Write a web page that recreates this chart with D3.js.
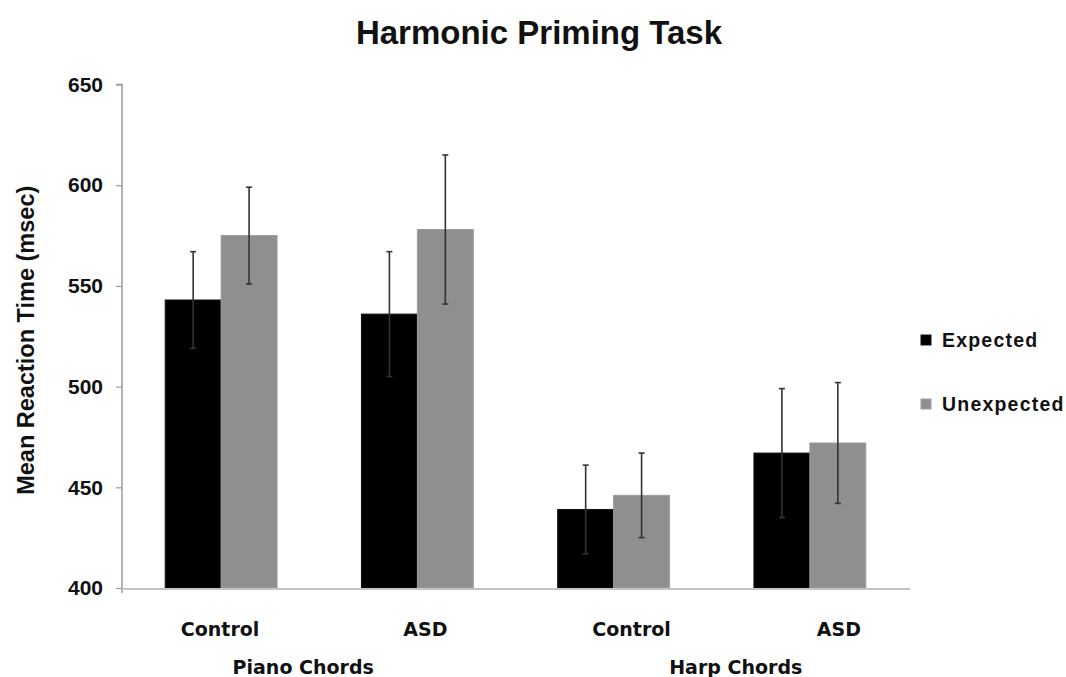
<!DOCTYPE html>
<html>
<head>
<meta charset="utf-8">
<script src="https://cdn.jsdelivr.net/npm/d3@7"></script>
<style>
  body { margin: 0; background: #fff; }
  text { font-family: "Liberation Sans", Arial, sans-serif; font-weight: bold; fill: #111; }
  .cat { font-family: "DejaVu Sans", Verdana, sans-serif; }
</style>
</head>
<body>
<svg id="chart" width="1066" height="677"></svg>
<script>
// data
const groups = ['Piano Control', 'Piano ASD', 'Harp Control', 'Harp ASD'];
const groupLabels = ['Control', 'ASD', 'Control', 'ASD'];
const instruments = ['Piano Chords', 'Harp Chords'];
const series = ['Expected', 'Unexpected'];
const expected = [543, 536, 439, 467];
const unexpected = [575, 578, 446, 472];
const expectedErr = [24, 31, 22, 32];
const unexpectedErr = [24, 37, 21, 30];
const yTicks = [400, 450, 500, 550, 600, 650];

const colors = ['#000000', '#8f8f8f'];

const svg = d3.select('#chart');

const y = d3.scaleLinear().domain([400, 650]).range([588, 84.5]);

const x = d3.scaleBand()
  .domain(groups)
  .range([123, 908])
  .paddingInner(0.43)
  .paddingOuter(0.215);

const xs = d3.scaleBand()
  .domain(series)
  .range([0, x.bandwidth()]);

// title
svg.append('text')
  .attr('x', 539).attr('y', 44)
  .attr('text-anchor', 'middle')
  .style('font-size', '33px')
  .text('Harmonic Priming Task');

// y axis
const yAxis = d3.axisLeft(y).tickValues(yTicks).tickSize(6).tickPadding(13);
const ya = svg.append('g')
  .attr('transform', 'translate(122,0)')
  .call(yAxis);
ya.select('.domain').attr('stroke', '#9a9a9a').attr('stroke-width', 1.5)
  .attr('d', `M-6,${y(650)}H0V${y(400) + 5}`);
ya.selectAll('.tick line').attr('stroke', '#9a9a9a').attr('stroke-width', 1.2);
ya.selectAll('.tick text')
  .style('font-size', '21px')
  .style('font-family', '"Liberation Sans", Arial, sans-serif')
  .attr('fill', '#111');

svg.append('text')
  .attr('transform', `translate(34,${(y(400) + y(650)) / 2 + 4}) rotate(-90)`)
  .attr('text-anchor', 'middle')
  .style('font-size', '23.5px')
  .text('Mean Reaction Time (msec)');

// bars
const rows = groups.map((g, i) => ({
  group: g,
  vals: [
    { s: series[0], v: expected[i], e: expectedErr[i] },
    { s: series[1], v: unexpected[i], e: unexpectedErr[i] }
  ]
}));

const gg = svg.selectAll('.grp')
  .data(rows)
  .enter().append('g')
  .attr('class', 'grp')
  .attr('transform', d => `translate(${x(d.group)},0)`);

gg.selectAll('rect')
  .data(d => d.vals)
  .enter().append('rect')
  .attr('x', d => xs(d.s))
  .attr('width', xs.bandwidth())
  .attr('y', d => y(d.v))
  .attr('height', d => y(400) - y(d.v))
  .attr('fill', (d, i) => colors[i])
  .attr('stroke', (d, i) => i ? '#9d9d9d' : '#111')
  .attr('stroke-width', 1);

// baseline
svg.append('line')
  .attr('x1', 122).attr('x2', 910)
  .attr('y1', y(400) + 1).attr('y2', y(400) + 1)
  .attr('stroke', '#c4c4c4').attr('stroke-width', 2);

// error bars
const eb = gg.selectAll('.err')
  .data(d => d.vals)
  .enter().append('g')
  .attr('class', 'err')
  .attr('stroke', '#333')
  .attr('stroke-width', 1.6);
eb.append('line')
  .attr('x1', d => xs(d.s) + xs.bandwidth() / 2)
  .attr('x2', d => xs(d.s) + xs.bandwidth() / 2)
  .attr('y1', d => y(d.v + d.e))
  .attr('y2', d => y(d.v - d.e));
eb.selectAll('.cap')
  .data(d => [d.v + d.e, d.v - d.e].map(v => ({ s: d.s, v })))
  .enter().append('line')
  .attr('x1', d => xs(d.s) + xs.bandwidth() / 2 - 3)
  .attr('x2', d => xs(d.s) + xs.bandwidth() / 2 + 3)
  .attr('y1', d => y(d.v))
  .attr('y2', d => y(d.v));

// category labels
const labelNudge = [-1, 8, 18, 29];
svg.selectAll('.cat1')
  .data(groups)
  .enter().append('text')
  .attr('class', 'cat')
  .attr('x', (d, i) => x(d) + x.bandwidth() / 2 + labelNudge[i])
  .attr('y', 636)
  .attr('text-anchor', 'middle')
  .style('font-size', '19px')
  .text((d, i) => groupLabels[i]);

const instNudge = [-16, 24];
svg.selectAll('.cat2')
  .data(instruments)
  .enter().append('text')
  .attr('class', 'cat')
  .attr('x', (d, i) => (x(groups[i * 2]) + x(groups[i * 2 + 1]) + x.bandwidth()) / 2 + instNudge[i])
  .attr('y', 674)
  .attr('text-anchor', 'middle')
  .style('font-size', '19px')
  .text(d => d);

// legend
const lg = svg.selectAll('.leg')
  .data(series)
  .enter().append('g')
  .attr('class', 'leg')
  .attr('transform', (d, i) => `translate(921,${335 + i * 64})`);
lg.append('rect')
  .attr('width', 10).attr('height', 10)
  .attr('fill', (d, i) => colors[i])
  .attr('stroke', (d, i) => i ? '#a0a0a0' : '#111');
lg.append('text')
  .attr('x', 21).attr('y', 12)
  .style('font-size', '19.5px')
  .style('letter-spacing', '1.2px')
  .text(d => d);
</script>
</body>
</html>
